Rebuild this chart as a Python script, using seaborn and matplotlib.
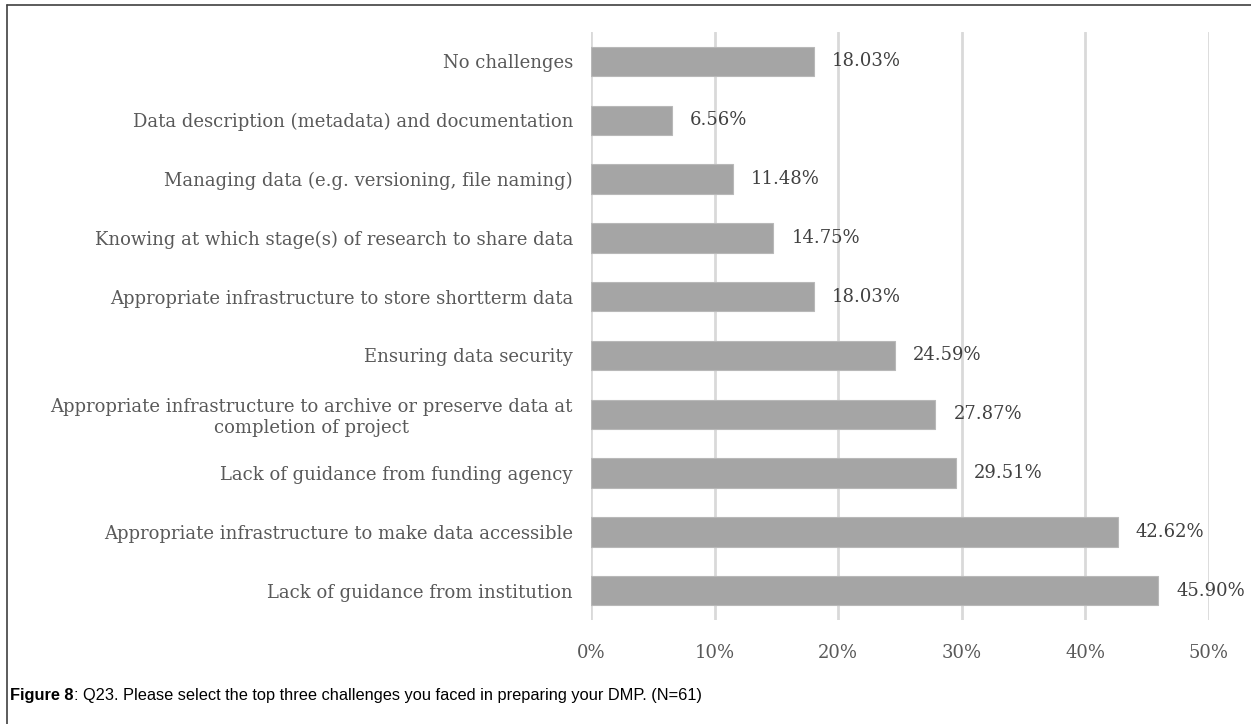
import matplotlib
matplotlib.use("Agg")
import matplotlib.pyplot as plt
from matplotlib.lines import Line2D
from matplotlib.ticker import FuncFormatter
import seaborn as sns
import pandas as pd

categories = [
    "No challenges",
    "Data description (metadata) and documentation",
    "Managing data (e.g. versioning, file naming)",
    "Knowing at which stage(s) of research to share data",
    "Appropriate infrastructure to store shortterm data",
    "Ensuring data security",
    "Appropriate infrastructure to archive or preserve data at\ncompletion of project",
    "Lack of guidance from funding agency",
    "Appropriate infrastructure to make data accessible",
    "Lack of guidance from institution",
]
percentages = [18.03, 6.56, 11.48, 14.75, 18.03, 24.59, 27.87, 29.51, 42.62, 45.90]
x_ticks = [0, 10, 20, 30, 40, 50]

caption_bold = "Figure 8"
caption_rest = ": Q23. Please select the top three challenges you faced in preparing your DMP. (N=61)"

df = pd.DataFrame({"challenge": categories, "pct": percentages})

sns.set_theme(style="white")
plt.rcParams["font.family"] = ["DejaVu Serif"]

fig = plt.figure(figsize=(12.51, 7.24), dpi=100)
ax = fig.add_axes([0.4724, 0.1436, 0.4940, 0.8122])

sns.barplot(data=df, x="pct", y="challenge", orient="h", color="#a5a5a5",
            saturation=1, width=0.5, edgecolor="#b8b8b8", linewidth=0.8,
            ax=ax, zorder=3)

ax.set_xlim(0, 50)
ax.set_ylim(9.5, -0.5)
ax.set_xticks(x_ticks)
ax.xaxis.set_major_formatter(FuncFormatter(lambda v, _: f"{v:.0f}%"))
ax.grid(axis="x", color="#d9d9d9", linewidth=2, zorder=0)
ax.grid(axis="y", visible=False)
for s in ax.spines.values():
    s.set_visible(False)
ax.set_xlabel("")
ax.set_ylabel("")
ax.tick_params(axis="x", length=0, pad=17, labelsize=13, labelcolor="#595959")
ax.tick_params(axis="y", length=0, pad=13, labelsize=13, labelcolor="#595959")
for lbl in ax.get_yticklabels():
    lbl.set_multialignment("center")

for i, v in enumerate(percentages):
    ax.annotate(f"{v:.2f}%", xy=(v, i), xytext=(13, 0), textcoords="offset points",
                va="center", ha="left", fontsize=13, color="#404040")

# frame lines on the left and top edges
fig.add_artist(Line2D([7 / 1251, 7 / 1251], [0, 1 - 5 / 724], transform=fig.transFigure,
                      color="#404040", linewidth=1.2))
fig.add_artist(Line2D([7 / 1251, 1], [1 - 5 / 724, 1 - 5 / 724], transform=fig.transFigure,
                      color="#404040", linewidth=1.2))

# caption: bold figure number followed by regular text
cap_y = 1 - 700 / 724
t1 = fig.text(10 / 1251, cap_y, caption_bold, fontsize=11.8, fontweight="bold",
              family=["Liberation Sans"], color="black", va="baseline")
fig.canvas.draw()
bb = t1.get_window_extent()
fig.text(bb.x1 / fig.bbox.width, cap_y, caption_rest,
         fontsize=11.8, family=["Liberation Sans"], color="black", va="baseline")

fig.savefig("out.png", dpi=100)
